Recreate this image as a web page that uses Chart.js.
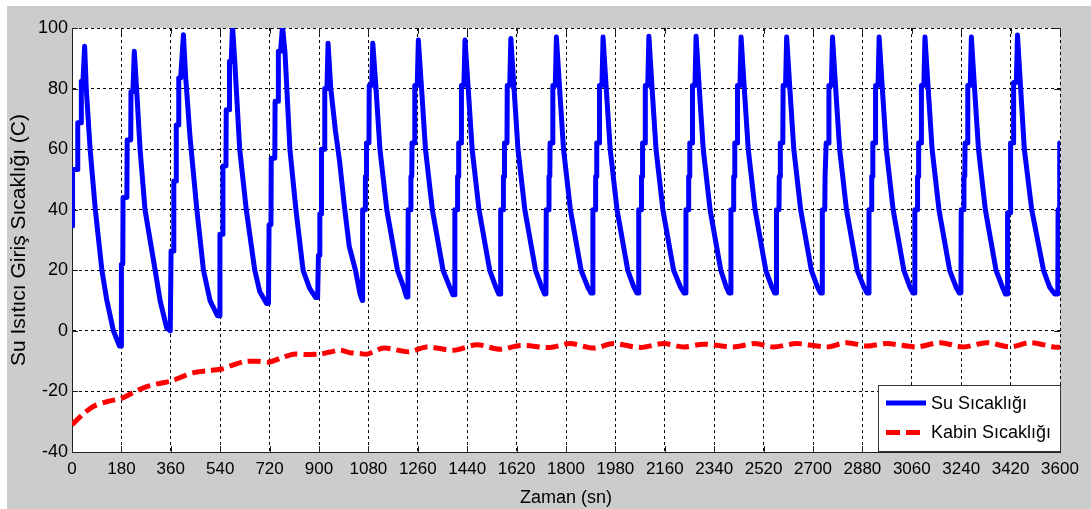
<!DOCTYPE html>
<html>
<head>
<meta charset="utf-8">
<script src="https://cdn.jsdelivr.net/npm/chart.js@4"></script>
<style>
html, body { margin: 0; padding: 0; background: #fff; }
canvas { display: block; }
</style>
</head>
<body>
<canvas id="grafik" width="1091" height="509"></canvas>
<script>
// [zaman (sn), sicaklik (C)]
var suSicakligi = [
  [0,34.6],[2,53.3],[20,53.3],[21,68.7],[33,68.7],[34,82.4],[40,82.4],[46,94],[52,80],[66,60],[85,40],[109,20],[127,10],[151,0],[173,-5],[179,-5],
  [180,22],[185,22],[186,44],[200,44],[201,63],[214,63],[215,79],[222,79],[227,92.3],[236,79],[248,60],[266,40],[303,20],[321,10],[345,1],[358,0],
  [360,0],[361,26.4],[370,26.4],[371,49.5],[379,49.5],[380,68],[388,68],[389,83.5],[396,83.5],[406,97.8],[414,84],[430,64],[455,40],[479,20],[503,10],[530,5],[537,5],
  [539,31.9],[549,31.9],[550,54.4],[561,54.4],[562,73],[573,73],[574,89],[580,89],[585,100.5],[593,89],[611,60],[635,40],[666,20],[684,13],[709,9],[716,9],
  [718,35],[725,35],[726,57],[739,57],[740,75.8],[751,75.8],[752,92.3],[760,92.3],[767,100.5],[776,92],[794,60],[816,40],[842,20],[866,14],[888,11],[895,11],
  [898,25],[902,25],[903,38.6],[908,38.6],[909,60],[920,60],[921,80],[929,80],[933,95],[943,80],[960,66],[975,56],[994,40],[1010,28],[1033,20],[1050,12],[1058,10],
  [1059,40],[1068,40],[1069,51],[1072,51],[1073,62],[1082,62],[1083,81],[1092,81],[1096,95],[1107,81],[1122,60],[1147,40],[1186,20],[1208,14.5],[1219,11.2],[1224,11.2],
  [1225,40],[1234,40],[1235,51],[1238,51],[1239,62],[1248,62],[1249,81],[1258,81],[1262,96],[1273,81],[1288,60],[1313,40],[1352,20],[1376,14.5],[1388,11.9],[1394,11.9],
  [1395,40],[1404,40],[1405,51],[1408,51],[1409,62],[1418,62],[1419,81],[1428,81],[1432,96],[1443,81],[1458,60],[1483,40],[1522,20],[1544,14.5],[1555,12.2],[1561,12.2],
  [1562,40],[1571,40],[1572,51],[1575,51],[1576,62],[1585,62],[1586,81],[1595,81],[1599,96.5],[1610,81],[1625,60],[1650,40],[1689,20],[1711,14.5],[1722,12.2],[1727,12.2],
  [1728,40],[1737,40],[1738,51],[1741,51],[1742,62],[1751,62],[1752,81],[1761,81],[1765,97],[1776,81],[1791,60],[1816,40],[1855,20],[1879,14.5],[1891,12.5],[1897,12.5],
  [1898,40],[1907,40],[1908,51],[1911,51],[1912,62],[1921,62],[1922,81],[1931,81],[1935,97],[1946,81],[1961,60],[1986,40],[2025,20],[2047,14.5],[2058,12.5],[2064,12.5],
  [2065,40],[2074,40],[2075,51],[2078,51],[2079,62],[2088,62],[2089,81],[2098,81],[2102,97.3],[2113,81],[2128,60],[2153,40],[2192,20],[2217,14.5],[2230,12.5],[2236,12.5],
  [2237,40],[2246,40],[2247,51],[2250,51],[2251,62],[2260,62],[2261,81],[2270,81],[2274,97.3],[2285,81],[2300,60],[2325,40],[2364,20],[2384,14.5],[2394,12.5],[2400,12.5],
  [2401,40],[2410,40],[2411,51],[2414,51],[2415,62],[2424,62],[2425,81],[2434,81],[2438,97],[2449,81],[2464,60],[2489,40],[2528,20],[2550,14.5],[2560,12.5],[2566,12.5],
  [2567,40],[2576,40],[2577,51],[2580,51],[2581,62],[2590,62],[2591,81],[2600,81],[2604,97],[2615,81],[2630,60],[2655,40],[2694,20],[2716,14.5],[2727,12.5],[2733,12.5],
  [2734,40],[2743,40],[2744,51],[2747,51],[2748,62],[2757,62],[2758,81],[2767,81],[2771,97],[2782,81],[2797,60],[2822,40],[2861,20],[2885,14.5],[2897,12.5],[2903,12.5],
  [2904,40],[2913,40],[2914,51],[2917,51],[2918,62],[2927,62],[2928,81],[2937,81],[2941,97],[2952,81],[2967,60],[2992,40],[3031,20],[3053,14.5],[3064,12.5],[3070,12.5],
  [3071,40],[3080,40],[3081,51],[3084,51],[3085,62],[3094,62],[3095,81],[3104,81],[3108,97],[3119,81],[3134,60],[3159,40],[3198,20],[3221,14.5],[3233,12.5],[3239,12.5],
  [3240,40],[3249,40],[3250,51],[3253,51],[3254,62],[3263,62],[3264,81],[3273,81],[3277,97],[3288,81],[3303,60],[3328,40],[3367,20],[3390,14.5],[3401,12.2],[3407,12.2],
  [3408,26],[3410,39],[3419,39],[3420,62],[3430,62],[3431,82],[3441,82],[3445,97.7],[3456,81],[3470,60],[3497,40],[3540,20],[3562,14.5],[3580,12.2],[3592,12.2],
  [3593,40],[3598,40],[3599,62],[3600,62]
];

var kabinSicakligi = [
  [0,-31],[40,-27.5],[79,-24.9],[130,-23.3],[180,-22.3],[220,-20.5],[261,-18.8],[310,-17.5],[360,-16.6],[400,-15.2],
  [443,-13.8],[490,-13.2],[540,-12.7],[580,-11.5],[625,-10.2],[670,-10],[720,-10.3],[760,-9],[807,-7.7],[850,-7.8],
  [900,-7.7],[940,-7],[977,-6.4],[1014,-7.2],[1050,-7.5],[1075,-7.7],[1136,-5.7],[1226,-6.9],[1293,-5.3],[1390,-6.4],
  [1475,-4.6],[1560,-6.1],[1633,-4.8],[1742,-5.5],[1815,-4.2],[1900,-5.7],[1973,-4.2],[2070,-5.5],[2155,-4.2],[2228,-5.3],
  [2301,-4.4],[2410,-5.3],[2489,-4.2],[2556,-5.3],[2641,-4.2],[2750,-5.3],[2823,-3.9],[2896,-5],[2969,-4.2],[3078,-5.3],
  [3163,-3.9],[3248,-5.3],[3333,-3.9],[3418,-5.3],[3491,-3.9],[3576,-5.3],[3600,-5.5]
];

var seriAdlari = ['Su Sıcaklığı', 'Kabin Sıcaklığı'];
var xBaslik = 'Zaman (sn)';
var yBaslik = 'Su Isıtıcı Giriş Sıcaklığı (C)';

var yazi = '"Liberation Sans", Arial, sans-serif';

function noktalar(dizi) {
  return dizi.map(function (p) { return {x: p[0], y: p[1]}; });
}

// gri cerceve + beyaz cizim alani
var arkaPlan = {
  id: 'arkaPlan',
  beforeDraw: function (chart) {
    var ctx = chart.ctx, a = chart.chartArea;
    ctx.save();
    ctx.fillStyle = '#fff';
    ctx.fillRect(0, 0, chart.width, chart.height);
    ctx.fillStyle = '#cccccc';
    ctx.fillRect(7, 6, chart.width - 7, chart.height - 6);
    ctx.fillStyle = '#fff';
    ctx.fillRect(a.left, a.top, a.right - a.left, a.bottom - a.top);
    ctx.restore();
  }
};

// matlab tarzi ic tick cizgileri
var icTikler = {
  id: 'icTikler',
  beforeDatasetsDraw: function (chart) {
    var ctx = chart.ctx, a = chart.chartArea, sx = chart.scales.x, sy = chart.scales.y;
    ctx.save();
    ctx.strokeStyle = '#222';
    ctx.lineWidth = 1;
    ctx.beginPath();
    sx.ticks.forEach(function (t) {
      var px = Math.round(sx.getPixelForValue(t.value)) + 0.5;
      ctx.moveTo(px, a.bottom); ctx.lineTo(px, a.bottom - 6);
      ctx.moveTo(px, a.top); ctx.lineTo(px, a.top + 6);
    });
    sy.ticks.forEach(function (t) {
      var py = Math.round(sy.getPixelForValue(t.value)) + 0.5;
      ctx.moveTo(a.left, py); ctx.lineTo(a.left + 6, py);
      ctx.moveTo(a.right, py); ctx.lineTo(a.right - 6, py);
    });
    ctx.stroke();
    ctx.restore();
  }
};

// grafik icindeki lejant kutusu
var lejant = {
  id: 'lejant',
  afterDraw: function (chart) {
    var ctx = chart.ctx;
    ctx.save();
    ctx.fillStyle = '#fff';
    ctx.fillRect(878.5, 385.5, 182, 66);
    ctx.strokeStyle = '#333';
    ctx.lineWidth = 1;
    ctx.strokeRect(878.5, 385.5, 182, 66);
    chart.data.datasets.forEach(function (ds, i) {
      var ly = 403 + i * 29.5;
      ctx.beginPath();
      ctx.setLineDash(i ? [14, 6] : []);
      ctx.lineWidth = ds.borderWidth;
      ctx.strokeStyle = ds.borderColor;
      ctx.moveTo(886, ly);
      ctx.lineTo(i ? 921 : 926, ly);
      ctx.stroke();
      ctx.setLineDash([]);
      ctx.fillStyle = '#000';
      ctx.font = '18px ' + yazi;
      ctx.textBaseline = 'middle';
      ctx.fillText(ds.label, 931, ly + 1);
    });
    ctx.restore();
  }
};

var izgara = { color: '#000', lineWidth: 1, drawTicks: false };
var kenar = { display: true, color: '#222', width: 1, dash: [3, 3] };

new Chart(document.getElementById('grafik').getContext('2d'), {
  type: 'line',
  data: {
    datasets: [{
      label: seriAdlari[0],
      data: noktalar(suSicakligi),
      borderColor: '#0000ff',
      backgroundColor: '#0000ff',
      borderWidth: 5,
      borderJoinStyle: 'round',
      pointRadius: 0,
      tension: 0,
      fill: false
    }, {
      label: seriAdlari[1],
      data: noktalar(kabinSicakligi),
      borderColor: '#ff0000',
      backgroundColor: '#ff0000',
      borderWidth: 5,
      borderDash: [13, 6],
      pointRadius: 0,
      tension: 0.3,
      fill: false
    }]
  },
  options: {
    responsive: false,
    animation: false,
    layout: { padding: { left: 0, top: 28, right: 31, bottom: 0 } },
    plugins: { legend: { display: false }, tooltip: { enabled: false } },
    scales: {
      x: {
        type: 'linear',
        min: 0,
        max: 3600,
        ticks: {
          stepSize: 180, autoSkip: false, maxRotation: 0, color: '#000', padding: 7,
          font: { family: yazi, size: 17 },
          callback: function (v) { return String(v); }
        },
        grid: izgara,
        border: kenar,
        title: { display: true, text: xBaslik, color: '#000', font: { family: yazi, size: 18 }, padding: { top: 0, bottom: 0 } },
        afterFit: function (s) { s.height = 57; }
      },
      y: {
        min: -40,
        max: 100,
        ticks: {
          stepSize: 20, color: '#000', padding: 4,
          font: { family: yazi, size: 18 },
          callback: function (v) { return String(v); }
        },
        grid: izgara,
        border: kenar,
        title: { display: true, text: yBaslik, color: '#000', font: { family: yazi, size: 21 }, padding: { top: 7, bottom: 0 } },
        afterFit: function (s) { s.width = 72; }
      }
    }
  },
  plugins: [arkaPlan, icTikler, lejant]
});
</script>
</body>
</html>
